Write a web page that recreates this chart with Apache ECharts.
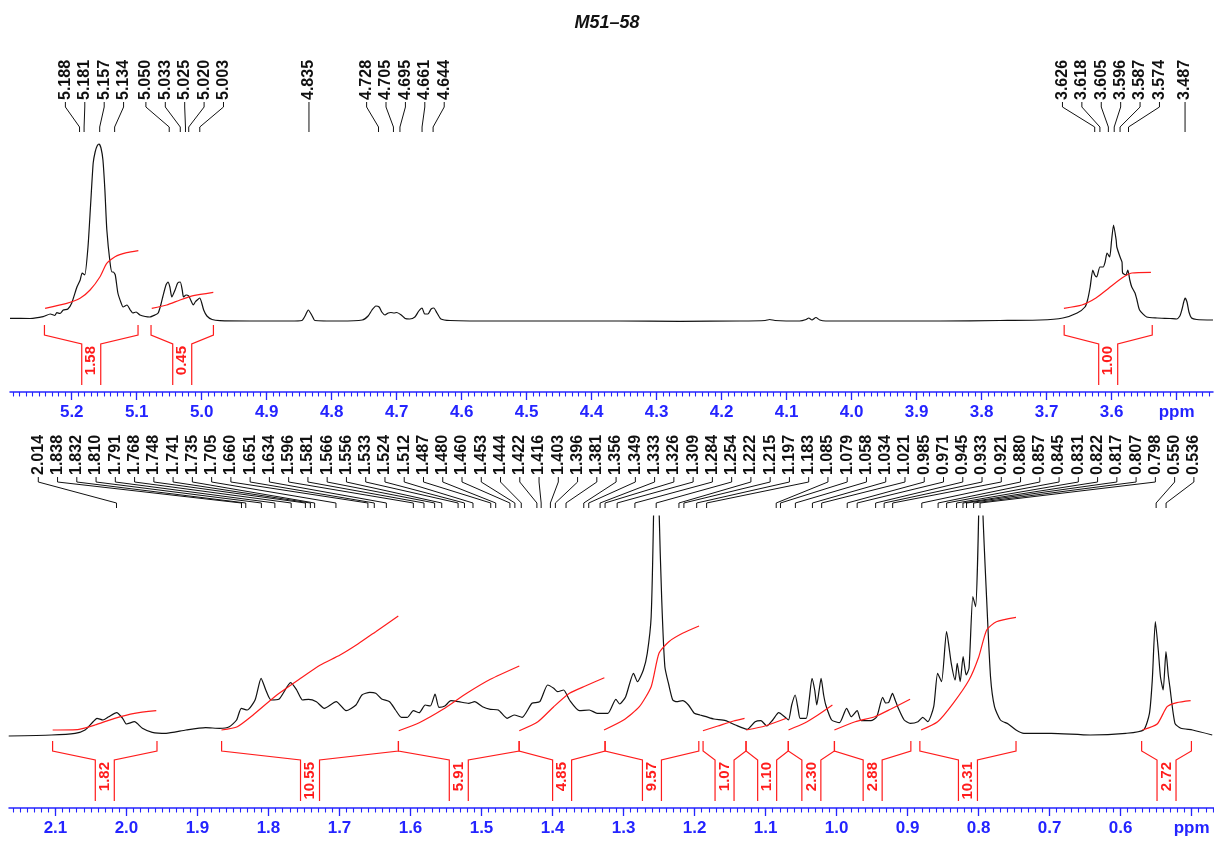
<!DOCTYPE html>
<html>
<head>
<meta charset="utf-8">
<title>M51–58 ¹H NMR</title>
<script src="https://cdn.jsdelivr.net/npm/echarts@6/dist/echarts.min.js"></script>
<style>
  html, body { margin: 0; padding: 0; background: #fff; }
  #chart { width: 1214px; height: 845px; }
</style>
</head>
<body>
<div id="chart"></div>
<script>
// ---------- data ----------
const sampleName = 'M51–58';

// 5.30–3.44 ppm window: [ppm, intensity]
const spectrumHigh = [
  [5.295,1.7],[5.264,1.5],[5.244,3.3],[5.233,6],[5.226,4.5],[5.223,7.3],[5.218,6.5],[5.213,10],[5.206,11],
  [5.200,17],[5.192,33],[5.187,40],[5.184,47],[5.180,45],[5.175,73],[5.171,115],[5.167,157],[5.164,168],
  [5.161,174],[5.158,176],[5.155,172],[5.152,160],[5.149,130],[5.146,90],[5.141,57],[5.138,48],[5.136,48],
  [5.133,45],[5.129,27],[5.124,17],[5.121,13],[5.115,15],[5.110,10],[5.106,7],[5.101,8],[5.095,5],[5.087,3.5],
  [5.080,3],[5.072,5],[5.067,7],[5.063,15],[5.060,23],[5.055,35],[5.052,38],[5.049,33],[5.046,23],[5.041,30],
  [5.037,37],[5.033,38],[5.030,30],[5.028,23],[5.024,25],[5.020,24],[5.017,20],[5.013,15],[5.010,18],[5.007,20],
  [5.003,22],[5.000,17],[4.997,10],[4.992,4],[4.984,0.5],[4.972,-0.7],[4.926,-1],[4.864,-1],[4.846,-0.5],
  [4.841,4],[4.836,10],[4.830,4],[4.826,-0.5],[4.787,-1],[4.753,0],[4.744,4],[4.738,10],[4.732,14],[4.727,13],
  [4.723,8],[4.718,5],[4.713,7],[4.709,7.5],[4.704,7],[4.700,7.5],[4.693,5],[4.687,1.5],[4.680,1],[4.672,3],
  [4.666,9],[4.661,12],[4.657,6],[4.652,6],[4.647,11],[4.643,12],[4.638,7],[4.632,1],[4.618,-0.5],[4.541,-1],
  [4.449,-1],[4.357,-1],[4.264,-1.3],[4.172,-1],[4.133,-0.5],[4.126,0.5],[4.118,-0.5],[4.080,-1],[4.070,0.5],
  [4.066,2],[4.061,0],[4.055,2.5],[4.049,0],[4.040,-1],[3.957,-1],[3.864,-1],[3.772,-0.5],[3.710,0],[3.675,2],
  [3.653,7],[3.641,13],[3.637,20],[3.633,33],[3.629,50],[3.626,45],[3.623,43],[3.618,53],[3.613,53],[3.610,58],
  [3.607,67],[3.603,63],[3.600,80],[3.597,95],[3.593,80],[3.592,73],[3.587,63],[3.584,58],[3.583,47],[3.578,45],
  [3.575,50],[3.572,40],[3.569,33],[3.564,27],[3.561,20],[3.557,10],[3.546,3],[3.530,2],[3.510,1.5],[3.500,1],
  [3.495,4],[3.492,10],[3.489,18],[3.487,22],[3.484,18],[3.481,8],[3.477,2],[3.469,0.5],[3.444,0]
];

// 2.17–0.47 ppm window: [ppm, intensity]; the 1.25 and 0.80 singlets run off the top
const spectrumLow = [
  [2.1658,0],[2.1056,1],[2.0724,2.7],[2.0583,6],[2.047,14.3],[2.0415,17.7],[2.0332,16],[2.0249,19.3],
  [2.0138,23.3],[2.0054,17.7],[1.9999,12],[1.9887,14.3],[1.9776,7.7],[1.9637,3.7],[1.9442,2.7],[1.9163,6],
  [1.8885,8.3],[1.8689,7.7],[1.8551,9.3],[1.8449,16],[1.8383,27.7],[1.83,26],[1.8189,36],[1.8104,57.7],
  [1.8038,46],[1.7965,36],[1.7854,36.7],[1.7687,53.3],[1.7603,46],[1.752,36],[1.7437,36.7],[1.7325,34.3],
  [1.7214,27.7],[1.7046,34.3],[1.6907,25.3],[1.6768,31],[1.6684,41],[1.6573,43.7],[1.649,42.7],[1.6406,37],
  [1.6294,34.3],[1.6211,26],[1.6128,18.7],[1.6044,18.7],[1.596,25.3],[1.5877,23.3],[1.5793,31],[1.5721,30],
  [1.5654,42],[1.5599,28.7],[1.5516,30],[1.5431,35.3],[1.532,34.3],[1.518,32.7],[1.5097,34.3],[1.4986,29.3],
  [1.4875,26.7],[1.4763,26],[1.464,17.7],[1.4541,21],[1.4428,18.7],[1.429,32.7],[1.4179,34.3],[1.4068,51],
  [1.3983,47.7],[1.3928,44.3],[1.3844,46],[1.3761,36],[1.3621,25.3],[1.3482,26],[1.3372,22.7],[1.322,22.7],
  [1.3109,36.7],[1.3054,32],[1.297,39.3],[1.286,62.7],[1.2804,54.3],[1.2721,66],[1.2666,82.7],[1.2611,119.3],
  [1.2575,230],[1.2538,420],[1.2501,230],[1.2462,136],[1.2418,69.3],[1.2362,51],[1.2307,36],[1.2252,34.3],
  [1.2169,35.3],[1.2086,31],
  [1.2003,22.7],[1.1921,21],[1.1837,19.3],[1.1727,17],[1.1562,15.3],[1.1424,11],[1.1258,6.7],[1.1147,14.3],
  [1.1065,15.3],[1.0982,10],[1.0899,16],[1.0815,23.3],[1.0732,19.3],[1.0677,16],[1.0632,31],[1.0583,41],
  [1.054,26],[1.0513,17.7],[1.0428,17.7],[1.0386,36],[1.0346,57.7],[1.0308,46],[1.0279,31],[1.0245,46],
  [1.0218,57.7],[1.0182,41],[1.0152,31],[1.0069,16],[0.9959,13.3],[0.9859,27.7],[0.9794,19.3],[0.971,25.3],
  [0.9655,15.3],[0.9517,15.3],[0.9434,19.3],[0.9351,38.7],[0.9308,33],[0.9268,33.3],[0.9213,42.7],[0.9175,36],
  [0.913,27.7],[0.9048,16],[0.8963,12.7],[0.8854,14.3],[0.8787,18.7],[0.8715,14.3],[0.8632,29.3],[0.8577,62.7],
  [0.8522,54.3],[0.8451,104.3],[0.8385,72.7],[0.833,56],[0.8301,72.7],[0.8259,54.3],[0.8218,79.3],[0.8175,61],
  [0.8135,67.7],[0.8081,139.3],[0.8042,129.3],[0.7997,230],[0.7970,420],[0.7942,230],[0.7886,136],
  [0.7832,59.3],[0.7776,29.3],
  [0.7693,16],[0.7583,12],[0.7473,6],[0.7362,2.7],[0.6977,2.7],[0.6428,1],[0.5925,2.7],[0.5677,6],
  [0.5594,22.7],[0.5554,56],[0.5511,114.3],[0.547,86],[0.5439,59.3],[0.5401,46],[0.5361,84.3],[0.5329,61],
  [0.5307,49.3],[0.5235,12.7],[0.5152,7.7],[0.4986,6],[0.471,1]
];

// running integral traces, one list of [ppm, height] per region
const integralCurvesHigh = [
  [[5.241,11.7],[5.2077,16.7],[5.1872,21.7],[5.1718,30],[5.1565,43.3],[5.1462,56.7],[5.1334,63.3],[5.1154,67.3],[5.0975,69.3]],
  [[5.0769,11.7],[5.0538,15],[5.0334,20],[5.0129,24.3],[4.9822,27.7]],
  [[3.6734,11.7],[3.6457,15],[3.6241,22],[3.6041,32],[3.5841,42],[3.5688,47],[3.5395,47.7]]
];
const integralCurvesLow = [
  [[2.1039,6],[2.0668,6.7],[2.0444,11],[2.0165,17.7],[1.9887,22.7],[1.958,25.3]],
  [[1.8662,6],[1.8439,9.3],[1.8217,21],[1.7882,41],[1.7548,57.7],[1.7269,71],[1.6992,81],[1.6741,92],[1.649,104.3],[1.6172,120]],
  [[1.6166,5.3],[1.5877,13.3],[1.5542,26.7],[1.5208,42.7],[1.4875,56.7],[1.4468,70]],
  [[1.4468,5.3],[1.4206,14.3],[1.3983,29.3],[1.3761,42.7],[1.3538,50],[1.327,58.3]],
  [[1.3275,6],[1.2999,16],[1.2777,29.3],[1.2611,49.3],[1.2501,82.7],[1.2362,94.3],[1.2169,102.7],[1.1937,110]],
  [[1.1882,5.3],[1.1672,10],[1.1451,15],[1.1296,17.7]],
  [[1.1273,6],[1.1008,10],[1.0706,17.7]],
  [[1.0677,6],[1.0456,12.7],[1.0263,21],[1.0059,31]],
  [[1.0031,6],[0.9738,14.3],[0.9462,19.3],[0.9241,26.7],[0.8965,36.7]],
  [[0.881,6],[0.8577,14.3],[0.8358,32.7],[0.8135,56],[0.7997,79.3],[0.7886,106],[0.7749,114.3],[0.7473,118.7]],
  [[0.5693,6],[0.5485,12],[0.5345,29.3],[0.5207,33.3],[0.5014,35.3]]
];

// integration regions: [from ppm, to ppm, relative area]
const integralsHigh = [
  [5.242, 5.098, '1.58'],
  [5.078, 4.982, '0.45'],
  [3.673, 3.5375, '1.00']
];
const integralsLow = [
  [2.104, 1.957, '1.82'],
  [1.866, 1.617, '10.55'],
  [1.617, 1.447, '5.91'],
  [1.447, 1.326, '4.85'],
  [1.326, 1.194, '9.57'],
  [1.188, 1.1275, '1.07'],
  [1.1275, 1.068, '1.10'],
  [1.068, 1.003, '2.30'],
  [1.003, 0.8954, '2.88'],
  [0.8827, 0.7473, '10.31'],
  [0.5704, 0.5003, '2.72']
];

// picked peaks (ppm)
const peaksHigh = [5.188, 5.181, 5.157, 5.134, 5.050, 5.033, 5.025, 5.020, 5.003, 4.835,
  4.728, 4.705, 4.695, 4.661, 4.644, 3.626, 3.618, 3.605, 3.596, 3.587, 3.574, 3.487];
const peaksLow = [2.014, 1.838, 1.832, 1.810, 1.791, 1.768, 1.748, 1.741, 1.735, 1.705,
  1.660, 1.651, 1.634, 1.596, 1.581, 1.566, 1.556, 1.533, 1.524, 1.512,
  1.487, 1.480, 1.460, 1.453, 1.444, 1.422, 1.416, 1.403, 1.396, 1.381,
  1.356, 1.349, 1.333, 1.326, 1.309, 1.284, 1.254, 1.222, 1.215, 1.197,
  1.183, 1.085, 1.079, 1.058, 1.034, 1.021, 0.985, 0.971, 0.945, 0.933,
  0.921, 0.880, 0.857, 0.845, 0.831, 0.822, 0.817, 0.807, 0.798, 0.550, 0.536];

// axis ticks and their labels
const ticksHigh = [5.2, 5.1, 5.0, 4.9, 4.8, 4.7, 4.6, 4.5, 4.4, 4.3, 4.2, 4.1, 4.0, 3.9, 3.8, 3.7, 3.6, 3.5];
const tickLabelsHigh = ['5.2', '5.1', '5.0', '4.9', '4.8', '4.7', '4.6', '4.5', '4.4', '4.3', '4.2', '4.1', '4.0', '3.9', '3.8', '3.7', '3.6', 'ppm'];
const ticksLow = [2.1, 2.0, 1.9, 1.8, 1.7, 1.6, 1.5, 1.4, 1.3, 1.2, 1.1, 1.0, 0.9, 0.8, 0.7, 0.6, 0.5];
const tickLabelsLow = ['2.1', '2.0', '1.9', '1.8', '1.7', '1.6', '1.5', '1.4', '1.3', '1.2', '1.1', '1.0', '0.9', '0.8', '0.7', '0.6', 'ppm'];

// ---------- styling / layout ----------
const FONT = '"Liberation Sans", Arial, Helvetica, sans-serif';
const BLUE = '#2424ff';
const RED = '#ff1c1c';
const INK = '#111111';
const rangeHigh = { min: 3.444, max: 5.295 };
const rangeLow = { min: 0.4685, max: 2.1654 };

function hundredths(r) {
  const out = [];
  for (let k = Math.ceil(r.min * 100); k <= Math.floor(r.max * 100); k++) out.push(k / 100);
  return out;
}

function labelFor(ticks, labels) {
  return function (v) {
    const i = ticks.findIndex(t => Math.abs(t - v) < 1e-6);
    return i >= 0 ? labels[i] : '';
  };
}

// spread labels apart: overlapping runs become evenly spaced groups centred on their peaks
function spreadLabels(xs, gap, lo, hi) {
  let groups = xs.map(x => ({ sum: x, n: 1, start: x }));
  let merged = true;
  while (merged) {
    merged = false;
    for (let i = 0; i + 1 < groups.length; i++) {
      const a = groups[i], b = groups[i + 1];
      if (b.start - (a.start + (a.n - 1) * gap) < gap - 1e-6) {
        const n = a.n + b.n, sum = a.sum + b.sum;
        groups.splice(i, 2, { sum: sum, n: n, start: sum / n - (n - 1) * gap / 2 });
        merged = true;
        break;
      }
    }
  }
  const out = [];
  groups.forEach(g => {
    const s = Math.max(lo, Math.min(g.start, hi - (g.n - 1) * gap));
    for (let k = 0; k < g.n; k++) out.push(s + k * gap);
  });
  return out;
}

function peakLabelRenderer(peaks, gap, textBottom, lineTop, lineBottom) {
  return function (params, api) {
    const xs = peaks.map(p => api.coord([p, 0])[0]);
    const lx = spreadLabels(xs, gap, 12, 1204);
    const i = params.dataIndex;
    const px = xs[i], L = lx[i];
    return {
      type: 'group',
      children: [
        {
          type: 'polyline',
          shape: { points: [[L, lineTop], [L, lineTop + 5], [px, lineBottom - 5], [px, lineBottom]] },
          style: { stroke: INK, lineWidth: 1, fill: 'none' }
        },
        {
          type: 'text', x: L, y: textBottom, rotation: Math.PI / 2,
          style: {
            text: peaks[i].toFixed(3), align: 'left', verticalAlign: 'middle',
            fill: INK, font: 'bold 16px ' + FONT
          }
        }
      ]
    };
  };
}

function bracketRenderer(list) {
  return function (params, api) {
    const d = list[params.dataIndex];
    const p1 = api.coord([d[0], 0]);
    const p2 = api.coord([d[1], 0]);
    const cs = params.coordSys;
    const yEnd = cs.y + cs.height - 7;
    const top = p1[1] + 5, mid = top + 10, low = mid + 9;
    const cx = (p1[0] + p2[0]) / 2, h = 9.5;
    const line = { stroke: RED, lineWidth: 1.2, fill: 'none' };
    return {
      type: 'group',
      children: [
        { type: 'polyline', shape: { points: [[p1[0], top], [p1[0], mid], [cx - h, low], [cx - h, yEnd]] }, style: line },
        { type: 'polyline', shape: { points: [[p2[0], top], [p2[0], mid], [cx + h, low], [cx + h, yEnd]] }, style: line },
        {
          type: 'text', x: cx, y: low + 2, rotation: Math.PI / 2,
          style: { text: d[2], align: 'right', verticalAlign: 'middle', fill: RED, font: 'bold 15px ' + FONT }
        }
      ]
    };
  };
}

function majorAxis(gridIndex, range, ticks, labels) {
  return {
    gridIndex: gridIndex, type: 'value', inverse: true, position: 'bottom',
    min: range.min, max: range.max,
    axisLine: { show: true, onZero: false, lineStyle: { color: BLUE, width: 1.5 } },
    axisTick: { show: true, inside: false, length: 8, customValues: ticks, lineStyle: { color: BLUE, width: 1.3 } },
    axisLabel: {
      show: true, customValues: ticks, formatter: labelFor(ticks, labels), margin: 12,
      color: BLUE, fontFamily: FONT, fontSize: 17, fontWeight: 'bold'
    },
    splitLine: { show: false }
  };
}

function minorAxis(gridIndex, range) {
  return {
    gridIndex: gridIndex, type: 'value', inverse: true, position: 'bottom',
    min: range.min, max: range.max,
    axisLine: { show: false, onZero: false },
    axisTick: { show: true, inside: false, length: 4.5, customValues: hundredths(range), lineStyle: { color: BLUE, width: 1.1 } },
    axisLabel: { show: false },
    splitLine: { show: false }
  };
}

function trace(data, xAxisIndex, yAxisIndex, color, width) {
  return {
    type: 'line', data: data, xAxisIndex: xAxisIndex, yAxisIndex: yAxisIndex,
    showSymbol: false, symbol: 'none', smooth: 0.2, clip: true,
    lineStyle: { color: color, width: width }, silent: true
  };
}

const series = [
  trace(spectrumHigh, 0, 0, INK, 1.2),
  trace(spectrumLow, 2, 1, INK, 1.2)
];
integralCurvesHigh.forEach(c => series.push(trace(c, 0, 0, RED, 1.2)));
integralCurvesLow.forEach(c => series.push(trace(c, 2, 1, RED, 1.2)));
series.push({
  type: 'custom', xAxisIndex: 0, yAxisIndex: 0, silent: true,
  data: integralsHigh.map(d => [d[0], d[1]]), renderItem: bracketRenderer(integralsHigh)
});
series.push({
  type: 'custom', xAxisIndex: 2, yAxisIndex: 1, silent: true,
  data: integralsLow.map(d => [d[0], d[1]]), renderItem: bracketRenderer(integralsLow)
});
series.push({
  type: 'custom', xAxisIndex: 0, yAxisIndex: 0, silent: true,
  data: peaksHigh.map(p => [p, 0]), renderItem: peakLabelRenderer(peaksHigh, 19.4, 100, 102, 132)
});
series.push({
  type: 'custom', xAxisIndex: 2, yAxisIndex: 1, silent: true,
  data: peaksLow.map(p => [p, 0]), renderItem: peakLabelRenderer(peaksLow, 19.26, 475, 477, 508)
});

const chart = echarts.init(document.getElementById('chart'), null, { renderer: 'canvas' });
chart.setOption({
  animation: false,
  backgroundColor: '#ffffff',
  title: {
    text: sampleName, left: 'center', top: 9,
    textStyle: { fontFamily: FONT, fontSize: 18, fontWeight: 'bold', fontStyle: 'italic', color: INK }
  },
  grid: [
    { left: 10, right: 1, top: 140, height: 252, outerBoundsMode: 'none' },
    { left: 9, right: 0, top: 516, height: 292, outerBoundsMode: 'none' }
  ],
  xAxis: [
    majorAxis(0, rangeHigh, ticksHigh, tickLabelsHigh),
    minorAxis(0, rangeHigh),
    majorAxis(1, rangeLow, ticksLow, tickLabelsLow),
    minorAxis(1, rangeLow)
  ],
  yAxis: [
    { gridIndex: 0, type: 'value', min: -72, max: 180, show: false },
    { gridIndex: 1, type: 'value', min: -72, max: 220, show: false }
  ],
  series: series
});
</script>
</body>
</html>
